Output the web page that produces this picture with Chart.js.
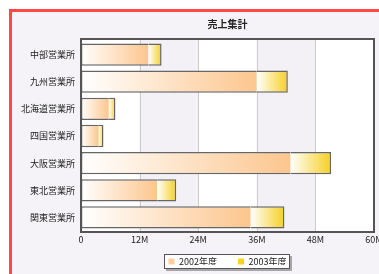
<!DOCTYPE html>
<html>
<head>
<meta charset="utf-8">
<script src="https://cdn.jsdelivr.net/npm/chart.js@4/dist/chart.umd.min.js"></script>
<style>
html,body{margin:0;padding:0;background:#fff;}
#wrap{width:379px;height:274px;position:relative;}
</style>
</head>
<body>
<div id="wrap"><canvas id="c" width="379" height="274"></canvas></div>
<script>
const chartTitle = '売上集計';
const categories = ['中部営業所','九州営業所','北海道営業所','四国営業所','大阪営業所','東北営業所','関東営業所'];
const seriesNames = ['2002年度','2003年度'];
const sales2002 = [13800000, 36000000, 5700000, 3650000, 42900000, 15600000, 34750000];
const sales2003 = [2700000, 6350000, 1350000, 950000, 8300000, 3900000, 6900000];
const xTicks = [0, 12000000, 24000000, 36000000, 48000000, 60000000];
const xTickLabels = ['0','12M','24M','36M','48M','60M'];

const FONT = '"Noto Sans CJK JP", "Noto Sans", sans-serif';
const legendColors = ['#fdcf9e', '#ffd21f'];
const gradEnd = ['#fcc68e', '#f6cf22'];

function barGradient(dsIndex) {
  return function(ctx) {
    const chart = ctx.chart;
    if (!chart.chartArea || ctx.type !== 'data') return legendColors[dsIndex];
    const xs = chart.scales.x;
    const i = ctx.dataIndex;
    const start = dsIndex === 0 ? 0 : sales2002[i];
    const end = dsIndex === 0 ? sales2002[i] : sales2002[i] + sales2003[i];
    const x0 = xs.getPixelForValue(start), x1 = xs.getPixelForValue(end);
    const g = chart.ctx.createLinearGradient(x0, 0, x1, 0);
    g.addColorStop(0, '#ffffff');
    g.addColorStop(1, gradEnd[dsIndex]);
    return g;
  };
}

const framePlugin = {
  id: 'frame',
  afterLayout(chart) {
    const lg = chart.legend;
    if (lg) {
      const h = lg.bottom - lg.top;
      lg.top = chart.chartArea.bottom + 5;
      lg.bottom = lg.top + h;
    }
  },
  beforeDraw(chart) {
    const c = chart.ctx, W = chart.width, H = chart.height;
    c.save();
    c.fillStyle = '#ffffff';
    c.fillRect(0, 0, W, H);
    c.fillStyle = '#f5f3f7';
    c.fillRect(12, 12, W - 12, H - 12);
    c.fillStyle = '#ff4747';
    c.fillRect(9, 9, 3, H - 9);
    c.fillRect(9, 9, W - 9, 3);
    // plot background bands
    const a = chart.chartArea, xs = chart.scales.x;
    const top = a.top - 2, bot = a.bottom + 1;
    for (let k = 0; k < xTicks.length - 1; k++) {
      const p0 = xs.getPixelForValue(xTicks[k]), p1 = xs.getPixelForValue(xTicks[k + 1]);
      c.fillStyle = (k % 2 === 0) ? '#ffffff' : '#f3f1f5';
      c.fillRect(p0, top, p1 - p0, bot - top);
    }
    c.strokeStyle = '#cccccc';
    c.lineWidth = 1;
    for (let k = 1; k < xTicks.length - 1; k++) {
      const p = Math.round(xs.getPixelForValue(xTicks[k])) + 0.5;
      c.beginPath(); c.moveTo(p, top); c.lineTo(p, bot); c.stroke();
    }
    // legend box
    const lg = chart.legend;
    if (lg && lg.legendItems) {
      c.font = '9px ' + FONT;
      const pad = lg.options.labels.padding;
      const bw = lg.options.labels.boxWidth;
      let w = 0;
      lg.legendItems.forEach((it, i) => { w += bw + 4.5 + c.measureText(it.text).width + (i ? pad : 0); });
      const cx = (lg.left + lg.right) / 2;
      const x0 = Math.round(cx - w / 2 - 5), x1 = Math.round(cx + w / 2 + 4);
      const cy = lg.top + pad + 4.5;
      const y0 = Math.round(cy - 7.5), y1 = Math.round(cy + 7.5);
      c.fillStyle = '#a8a6aa';
      c.fillRect(x0 + 2, y0 + 2, x1 - x0, y1 - y0);
      c.fillStyle = '#ffffff';
      c.fillRect(x0, y0, x1 - x0, y1 - y0);
      c.strokeStyle = '#555555';
      c.lineWidth = 1;
      c.strokeRect(x0 + 0.5, y0 + 0.5, x1 - x0 - 1, y1 - y0 - 1);
    }
    c.restore();
  },
  afterDatasetsDraw(chart) {
    const c = chart.ctx, a = chart.chartArea;
    c.save();
    c.strokeStyle = '#555555';
    c.lineWidth = 2;
    c.strokeRect(a.left, a.top - 2, a.right - a.left, a.bottom + 1 - (a.top - 2));
    c.restore();
  }
};

new Chart(document.getElementById('c'), {
  type: 'bar',
  data: {
    labels: categories,
    datasets: [
      { label: seriesNames[0], data: sales2002, backgroundColor: barGradient(0),
        borderColor: '#666666', borderWidth: {top: 1.5, bottom: 1.5, left: 1.5, right: 0}, borderSkipped: false },
      { label: seriesNames[1], data: sales2003, backgroundColor: barGradient(1),
        borderColor: '#666666', borderWidth: {top: 1.5, bottom: 1.5, left: 0, right: 1.5}, borderSkipped: false }
    ]
  },
  options: {
    indexAxis: 'y',
    responsive: false,
    animation: false,
    devicePixelRatio: 1,
    layout: { padding: { left: 12, top: 10, right: 5, bottom: 0 } },
    datasets: { bar: { categoryPercentage: 0.82, barPercentage: 1 } },
    scales: {
      x: {
        stacked: true, min: 0, max: 60000000,
        afterBuildTicks(s) { s.ticks = xTicks.map(v => ({ value: v })); },
        afterFit(s) { s.paddingRight = 0; s.paddingLeft = 0; s.height = 14; },
        grid: { display: false, drawTicks: false },
        border: { display: false },
        ticks: {
          padding: 3, color: '#222222', font: { family: FONT, size: 9 },
          maxRotation: 0, autoSkip: false,
          callback(v) { const i = xTicks.indexOf(v); return i >= 0 ? xTickLabels[i] : ''; }
        }
      },
      y: {
        stacked: true,
        afterFit(s) { s.width = 69; },
        grid: { display: false, drawTicks: false },
        border: { display: false },
        ticks: { padding: 6, color: '#222222', font: { family: FONT, size: 9 } }
      }
    },
    plugins: {
      title: {
        display: true, text: chartTitle, fullSize: false, color: '#222222',
        font: { family: FONT, size: 10, weight: 'bold' },
        padding: { top: 8, bottom: 11 }
      },
      legend: {
        position: 'bottom', fullSize: false, maxHeight: 29,
        labels: {
          boxWidth: 6, boxHeight: 6, padding: 21, color: '#222222',
          font: { family: FONT, size: 9 },
          generateLabels(chart) {
            return chart.data.datasets.map((d, i) => ({
              text: d.label, fillStyle: legendColors[i], strokeStyle: legendColors[i],
              lineWidth: 0, datasetIndex: i, hidden: false, fontColor: '#222222'
            }));
          }
        }
      },
      tooltip: { enabled: false }
    }
  },
  plugins: [framePlugin]
});
</script>
</body>
</html>
